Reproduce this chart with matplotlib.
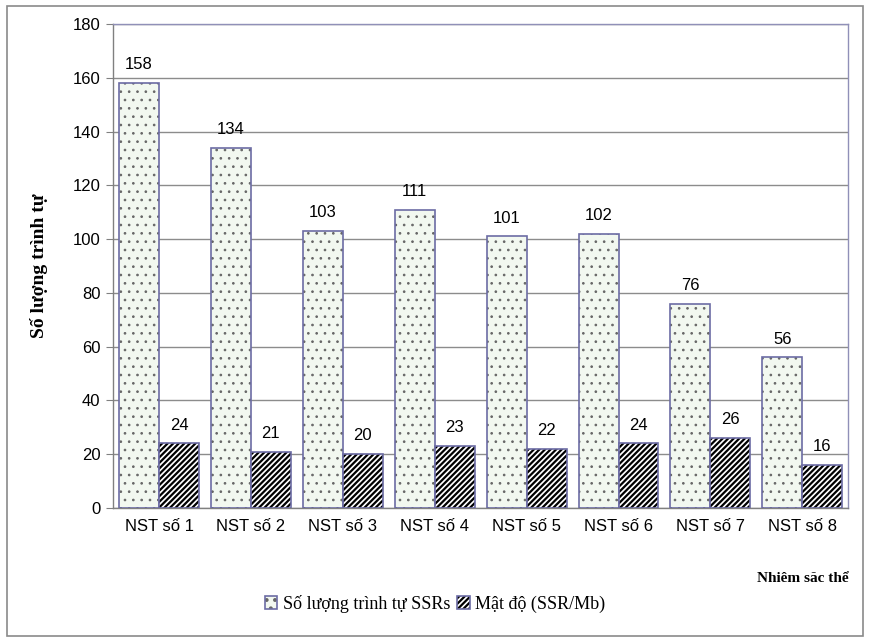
import numpy as np
import matplotlib.pyplot as plt
from matplotlib.patches import Rectangle
from matplotlib import font_manager

categories = ["NST số 1", "NST số 2", "NST số 3", "NST số 4",
              "NST số 5", "NST số 6", "NST số 7", "NST số 8"]
counts = [158, 134, 103, 111, 101, 102, 76, 56]
density = [24, 21, 20, 23, 22, 24, 26, 16]

names = {f.name for f in font_manager.fontManager.ttflist}
narrow = "Liberation Sans Narrow" if "Liberation Sans Narrow" in names else "Liberation Sans"
serif = "Liberation Serif"

plt.rcParams["hatch.linewidth"] = 1.6

fig = plt.figure(figsize=(8.7, 6.41), dpi=100)
ax = fig.add_axes([0.130, 0.2075, 0.845, 0.755])

x = np.arange(len(categories))
w = 0.435
edge = "#6c6ca4"

b1 = ax.bar(x - w / 2, counts, w, facecolor="#f2f8f0", edgecolor=edge,
            linewidth=1.2, hatch="..", zorder=3, label="Số lượng trình tự SSRs")
b2 = ax.bar(x + w / 2, density, w, facecolor="white", edgecolor=edge,
            linewidth=1.2, hatch="//////", zorder=3, label="Mật độ (SSR/Mb)")
for p in b1:
    p._hatch_color = (0.4, 0.4, 0.4, 1)
    p._hatch_linewidth = 0.7
for p in b2:
    p._hatch_color = (0, 0, 0, 1)

for xi, v in zip(x, counts):
    ax.text(xi - w / 2, v + 4, str(v), ha="center", va="bottom",
            fontsize=12, family=narrow)
for xi, v in zip(x, density):
    ax.text(xi + w / 2, v + 4, str(v), ha="center", va="bottom",
            fontsize=12, family=narrow)

ax.set_xlim(-0.5, len(categories) - 0.5)
ax.set_ylim(0, 180)
ax.set_yticks(range(0, 181, 20))
ax.set_yticklabels([str(t) for t in range(0, 181, 20)], family=narrow, fontsize=12)
ax.set_xticks(x)
ax.set_xticklabels(categories, family=narrow, fontsize=12)
ax.tick_params(axis="x", length=0, pad=8)
ax.tick_params(axis="y", length=5, color="#808080", pad=4)
ax.yaxis.grid(True, color="#8c8c8c", linewidth=1.0, zorder=0)
ax.set_axisbelow(True)
for s in ax.spines.values():
    s.set_color("#9090b8")
    s.set_linewidth(1.0)
ax.spines["left"].set_color("#808080")
ax.spines["bottom"].set_color("#808080")

ax.set_ylabel("Số lượng trình tự", family=serif, fontweight="bold",
              fontsize=14, labelpad=18)
fig.text(0.975, 0.098, "Nhiêm săc thể", ha="right", va="center",
         family=serif, fontweight="bold", fontsize=11)

leg = fig.legend(handles=[b1, b2], loc="center", bbox_to_anchor=(0.5, 0.058),
                 ncol=2, frameon=False, prop={"family": serif, "size": 13},
                 handlelength=0.7, handleheight=0.7, handletextpad=0.3,
                 columnspacing=0.4)

fig.patches.append(Rectangle((0.008, 0.008), 0.984, 0.982, transform=fig.transFigure,
                             fill=False, edgecolor="#8a8a8a", linewidth=1.2))

fig.savefig("out.png", dpi=100)
